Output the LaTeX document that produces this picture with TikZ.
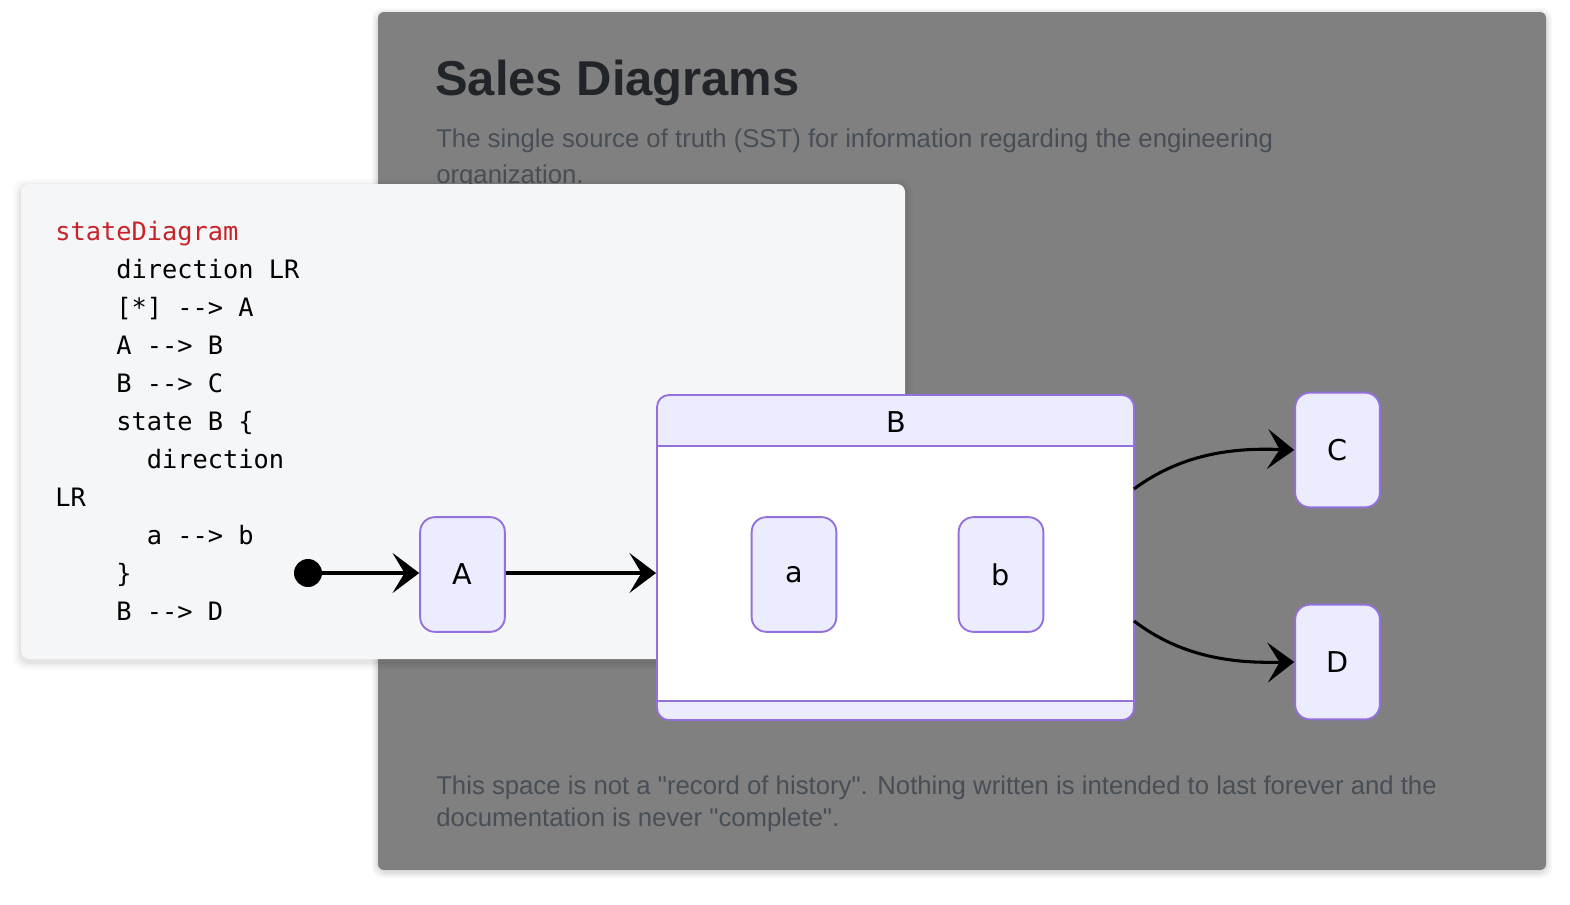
\documentclass[tikz,border=0pt]{standalone}
\usepackage{fontspec}
\setmainfont{Liberation Sans}
\newfontfamily\monof{DejaVu Sans Mono}
\newfontfamily\nodef{DejaVu Sans}
\usetikzlibrary{arrows.meta}
\definecolor{panelgray}{RGB}{128,128,128}
\definecolor{codebg}{RGB}{245,246,248}
\definecolor{titlec}{RGB}{33,37,41}
\definecolor{subc}{RGB}{72,78,86}
\definecolor{codered}{RGB}{200,35,40}
\definecolor{nodefill}{RGB}{236,236,255}
\definecolor{nodestroke}{RGB}{147,112,219}
\tikzset{
  statebox/.style={draw=nodestroke, fill=nodefill, line width=1.4pt, rounded corners=11pt,
    minimum width=63.5pt, minimum height=86pt, inner sep=0pt, font=\nodef\fontsize{21.5pt}{24pt}\selectfont},
  codeline/.style={anchor=base west, inner sep=0pt, font=\monof\fontsize{19pt}{22pt}\selectfont},
  tr/.style={line width=2.3pt, -{Stealth[length=20pt,width=30pt,inset=9pt]}},
  bodytext/.style={anchor=base west, inner sep=0pt, text=subc, font=\fontsize{19.3pt}{23pt}\selectfont},
}
\begin{document}
\begin{tikzpicture}[x=0.75pt,y=-0.75pt]
\useasboundingbox (0,0) rectangle (1570,904);
\fill[white] (0,0) rectangle (1570,904);
% gray panel with soft shadow
\foreach \o/\a in {6/0.03,4/0.04,2/0.05}{
  \fill[black,opacity=\a,rounded corners=8pt] (378-\o,12-\o+2) rectangle (1546+\o,870+\o+2);
}
\fill[panelgray,rounded corners=4.5pt] (378,12) rectangle (1546,870);
\node[anchor=base west,inner sep=0pt,text=titlec,font=\bfseries\fontsize{36.7pt}{40pt}\selectfont] (title) at (435,95) {Sales Diagrams};
\node[bodytext] (sub1) at (436,147) {The single source of truth (SST) for information regarding the engineering};
\node[bodytext] (sub2) at (436,183) {organization.};
\node[bodytext] (foot1) at (436,794) {This space is not a \textquotedbl record of history\textquotedbl. Nothing written is intended to last forever and the};
\node[bodytext] (foot2) at (436,826) {documentation is never \textquotedbl complete\textquotedbl.};
% code panel with soft shadow
\foreach \o/\a in {8/0.015,6/0.02,4/0.03,2/0.04}{
  \fill[black,opacity=\a,rounded corners=8pt] (21-\o,184-\o+3) rectangle (905+\o,659+\o+3);
}
\fill[codebg,rounded corners=6pt] (21,184) rectangle (905,659);
\node[codeline,text=codered] (l1) at (55,240) {stateDiagram};
\node[codeline] (l2) at (55,278) {\ \ \ \ direction LR};
\node[codeline] (l3) at (55,316) {\ \ \ \ [*] --> A};
\node[codeline] (l4) at (55,354) {\ \ \ \ A --> B};
\node[codeline] (l5) at (55,392) {\ \ \ \ B --> C};
\node[codeline] (l6) at (55,430) {\ \ \ \ state B \{};
\node[codeline] (l7) at (55,468) {\ \ \ \ \ \ direction};
\node[codeline] (l8) at (55,506) {LR};
\node[codeline] (l9) at (55,544) {\ \ \ \ \ \ a --> b};
\node[codeline] (l10) at (55,582) {\ \ \ \ \}};
\node[codeline] (l11) at (55,620) {\ \ \ \ B --> D};
% diagram
\node[circle,fill=black,minimum size=21pt,inner sep=0pt] (start) at (308,573) {};
\node[statebox] (A) at (462.5,574.5) {A};
% composite state B
\node[draw=nodestroke, fill=nodefill, line width=1.4pt, rounded corners=9pt,
      minimum width=357.75pt, minimum height=243.75pt, inner sep=0pt] (B) at (895.5,557.5) {};
\fill[white] (658,446) rectangle (1133,701);
\draw[nodestroke,line width=1.4pt] (657,446) -- (1134,446);
\draw[nodestroke,line width=1.4pt] (657,701) -- (1134,701);
\node[inner sep=0pt,font=\nodef\fontsize{21.5pt}{24pt}\selectfont] (Btitle) at (896,422) {B};
\node[statebox] (a) at (794,574.5) {a};
\node[statebox] (b) at (1001,574.5) {b};
\node[statebox] (C) at (1337.5,450) {C};
\node[statebox] (D) at (1337.5,662) {D};
\coordinate (bc) at (1134,489);
\coordinate (bd) at (1134,621);
\draw[tr] (start) -- (A.west |- start);
\draw[tr] (A.east |- start) -- (B.west |- start);
\draw[tr] (bc) .. controls (1185,451) and (1240,448) .. (C.west);
\draw[tr] (bd) .. controls (1185,660) and (1240,663) .. (D.west);
\end{tikzpicture}
\end{document}
